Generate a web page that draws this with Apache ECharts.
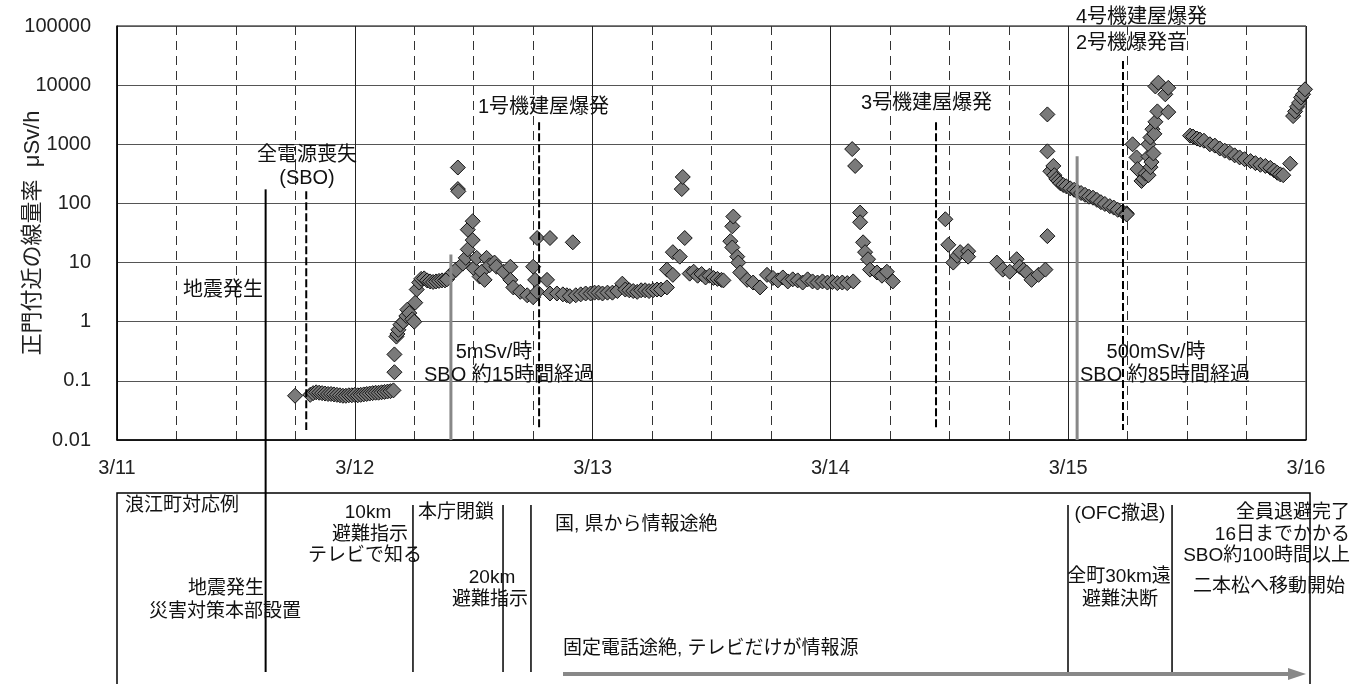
<!DOCTYPE html>
<html><head><meta charset="utf-8">
<script src="https://cdn.jsdelivr.net/npm/echarts@6/dist/echarts.min.js"></script>
<style>html,body{margin:0;padding:0;background:#fff}#chart{width:1361px;height:684px}</style>
</head><body><div id="chart"></div>
<script>
// Dose rate near the main gate (μSv/h); x = hours counted from 3/11 00:00
const dateLabels = ['3/11', '3/12', '3/13', '3/14', '3/15', '3/16'];
const yTickLabels = ['0.01', '0.1', '1', '10', '100', '1000', '10000', '100000'];

const rateMar11 = [[17.97,0.056],[19.5,0.058],[19.8,0.062],[20.1,0.064],[20.4,0.063],[20.7,0.062],[21.0,0.061],[21.3,0.06],[21.6,0.06],[21.9,0.059],[22.2,0.058],[22.5,0.057],[22.8,0.056],[23.1,0.056],[23.4,0.057],[23.7,0.057]];
const rateMar12 = [[24.0,0.058],[24.3,0.057],[24.6,0.058],[24.9,0.059],[25.2,0.06],[25.5,0.061],[25.8,0.062],[26.1,0.063],[26.4,0.063],[26.7,0.064],[27.0,0.065],[27.3,0.066],[27.6,0.067],[27.9,0.069],
  [28.0,0.14],[28.0,0.28],[28.2,0.56],[28.3,0.62],[28.4,0.73],[28.6,0.89],[28.9,1.0],[29.2,1.25],[29.3,1.6],[29.5,1.4],[29.8,1.1],[30.0,1.0],[30.1,2.1],[30.25,3.5],[30.5,4.6],[30.7,5.3],[31.0,5.4],[31.3,5.0],[31.6,4.8],[31.9,4.7],[32.2,4.8],[32.5,4.9],[32.8,5.0],[33.1,5.0],[33.3,5.2],[33.9,6.8],[34.2,7.5],
  [34.4,405],[34.4,175],[34.45,160],[34.9,9.6],[35.2,12],[35.4,16.7],[35.4,36],[35.9,50],[35.9,24],[36.0,8],[36.3,12],[36.6,5.8],[36.8,7],[37.1,5.1],[37.3,12],[37.6,9],[38.1,10],[38.3,8.5],[39.0,7],[39.7,8.5],[39.7,5.1],[40.0,3.8],[40.7,3.2],[41.4,2.8],[42.0,2.6],[42.0,8.5],[42.2,5.1],[42.4,3.2],[42.4,26],[43.4,5.1],[43.7,3.0],[43.7,26],[44.4,3.0],[45.4,2.8],[46.0,22],[45.0,2.9],[45.7,2.7],[46.3,2.8],[46.8,2.9],[47.3,3.0],[47.8,3.0]];
const rateMar13 = [[48.2,3.1],[48.6,3.1],[49.0,3.0],[49.5,3.1],[50.0,3.1],[50.5,3.3],[51.0,4.4],[51.3,3.5],[51.7,3.4],[52.1,3.3],[52.5,3.2],[52.9,3.4],[53.3,3.4],[53.7,3.3],[54.1,3.4],[54.5,3.5],[54.9,3.5],[55.5,3.8],
  [55.5,7.6],[56.1,6.2],[56.1,15],[56.8,12.6],[57.0,175],[57.1,280],[57.3,26],[57.8,6.5],[58.2,7.0],[58.6,6.0],[59.0,6.4],[59.4,5.6],[59.8,6.0],[60.2,5.5],[60.6,5.3],[61.0,5.1],[61.2,5.0],
  [61.9,23],[62.1,41],[62.2,60],[62.1,18],[62.6,12.6],[62.7,10],[62.9,6.8],[63.6,5.1],[64.2,4.6],[64.9,3.8],[65.6,6.2],[66.2,5.5],[66.7,5.0],[67.2,5.6],[67.7,4.8],[68.2,5.2],[68.7,5.0],[69.2,4.6],[69.7,5.2],[70.2,4.8],[70.7,4.6],[71.2,4.8],[71.7,4.6]];
const rateMar14 = [[72.2,4.7],[72.7,4.5],[73.2,4.6],[73.7,4.5],[74.3,4.8],[74.2,830],[74.5,430],[75.0,70],[75.0,48],[75.3,22],[75.5,15],[75.8,11.4],[76.0,7.6],[76.7,6.8],[77.2,6.0],[77.7,7.0],[78.3,4.8],
  [83.6,54],[83.9,20],[84.4,10],[84.8,13],[85.1,15],[85.9,15.6],[85.9,12.6],
  [88.8,10],[89.4,7.6],[90.1,7.0],[90.8,11.4],[91.1,8.5],[91.5,7.5],[91.8,6.8],[92.3,5.1],[93.0,6.2],[93.7,7.6],
  [93.9,28],[93.9,760],[93.9,3200],[94.2,350],[94.5,430],[94.6,300],[94.8,260],[95.0,240],[95.2,220],[95.5,205],[95.8,195]];
const rateMar15 = [[96.2,180],[96.6,170],[96.9,160],[97.3,150],[97.7,140],[98.1,130],[98.5,125],[98.9,115],[99.3,105],[99.7,98],[100.2,90],[100.6,85],[101.0,78],[101.5,72],[101.9,68],[101.9,65],
  [102.5,1000],[102.9,600],[103.0,380],[103.4,240],[103.6,260],[103.8,320],[104.1,300],[104.1,620],[104.1,1000],[104.3,410],[104.3,1300],[104.4,500],[104.5,1800],[104.6,700],[104.7,1500],[104.8,2400],[104.8,9500],[105.0,3600],[105.1,11000],[105.8,7000],[106.1,3500],[106.1,9000],
  [108.3,1400],[108.6,1350],[109.0,1250],[109.3,1200],[109.7,1150],[110.3,1000],[110.8,950],[111.3,850],[111.8,780],[112.3,720],[112.8,650],[113.3,600],[113.8,560],[114.4,520],[114.9,480],[115.4,450],[115.9,430],[116.4,400],[116.8,360],[117.1,330],[117.4,310],[117.7,300],[118.4,470],
  [118.7,3000],[118.9,3600],[119.1,4300],[119.3,5000],[119.5,6200],[119.7,7000],[119.9,8500]];

// event markers: hour, top of the line (μSv/h)
const quakeLine = { h: 15.0, top: 173 };
const eventLines = [
  { h: 19.1, top: 160 },    // 全電源喪失
  { h: 42.6, top: 2360 },   // 1号機建屋爆発
  { h: 82.66, top: 2360 },  // 3号機建屋爆発
  { h: 101.53, top: 25500 } // 4号機建屋爆発 / 2号機爆発音
];
const doseMarks = [
  { h: 33.7, top: 13.7 },   // 5mSv/時
  { h: 96.9, top: 627 }     // 500mSv/時
];
// hours at which the response table is divided
const tableDividers = [29.87, 38.96, 41.78, 95.98, 106.48];

const FONT = '"Liberation Sans", Arial, "Noto Sans CJK JP", sans-serif';
const doseData = [].concat(rateMar11, rateMar12, rateMar13, rateMar14, rateMar15);

const chart = echarts.init(document.getElementById('chart'));

const lineSeries = [];
lineSeries.push({
  type: 'line', data: [[quakeLine.h, quakeLine.top], [quakeLine.h, 0.01]],
  showSymbol: false, silent: true, z: 5,
  lineStyle: { color: '#000', width: 2, type: 'solid' }
});
eventLines.forEach(e => lineSeries.push({
  type: 'line', data: [[e.h, e.top], [e.h, 0.0148]],
  showSymbol: false, silent: true, z: 5,
  lineStyle: { color: '#000', width: 2, type: [8, 3] }
}));
doseMarks.forEach(e => lineSeries.push({
  type: 'line', data: [[e.h, e.top], [e.h, 0.01]],
  showSymbol: false, silent: true, z: 5,
  lineStyle: { color: '#888', width: 3, type: 'solid' }
}));

const option = {
  animation: false,
  backgroundColor: '#fff',
  textStyle: { fontFamily: FONT },
  grid: { left: 117, top: 26, width: 1189, height: 414, outerBoundsMode: 'none', containLabel: false,
    show: true, borderColor: '#000', borderWidth: 1 },
  xAxis: {
    type: 'value', min: 0, max: 120, interval: 24,
    axisLine: { show: true, lineStyle: { color: '#000', width: 1.5 } },
    axisTick: { show: false },
    axisLabel: { margin: 18, fontSize: 20, color: '#222', fontFamily: FONT,
      formatter: v => dateLabels[Math.round(v / 24)] },
    splitLine: { show: true, lineStyle: { color: '#222', width: 1 } },
    minorTick: { show: false, splitNumber: 4 },
    minorSplitLine: { show: true, lineStyle: { color: '#333', width: 1, type: [9, 6] } }
  },
  yAxis: {
    type: 'log', logBase: 10, min: 0.01, max: 100000, splitNumber: 7,
    name: '正門付近の線量率  μSv/h', nameLocation: 'middle', nameRotate: 90, nameGap: 73,
    nameMoveOverlap: false,
    nameTextStyle: { fontSize: 22, color: '#222', fontFamily: FONT },
    axisLine: { show: true, lineStyle: { color: '#000', width: 1.5 } },
    axisTick: { show: false },
    axisLabel: { margin: 26, fontSize: 20, color: '#222', fontFamily: FONT,
      formatter: v => yTickLabels[Math.round(Math.log10(v)) + 2] },
    splitLine: { show: true, lineStyle: { color: '#555', width: 1 } },
    minorSplitLine: { show: false }
  },
  series: [{
    type: 'scatter', data: doseData, symbol: 'diamond', symbolSize: 15, z: 3,
    itemStyle: { color: '#7a7a7a', borderColor: '#111', borderWidth: 1, opacity: 1 }
  }].concat(lineSeries)
};
chart.setOption(option);

// annotations and the response table below the plot
const px = h => chart.convertToPixel({ xAxisIndex: 0 }, h);
const txt = (x, y, text, align, size) => ({
  type: 'text', x: x, y: y, silent: true, z: 20,
  style: { text: text, fill: '#111', font: (size || 20) + 'px ' + FONT, textAlign: align || 'left', textVerticalAlign: 'middle' }
});
const ln = (x1, y1, x2, y2, color, w) => ({
  type: 'line', silent: true, z: 15,
  shape: { x1: x1, y1: y1, x2: x2, y2: y2 },
  style: { stroke: color || '#000', lineWidth: w || 1.5 }
});

const graphics = [
  txt(307, 155, '全電源喪失', 'center'),
  txt(307, 178, '(SBO)', 'center'),
  txt(478, 107, '1号機建屋爆発'),
  txt(861, 103, '3号機建屋爆発'),
  txt(1076, 17, '4号機建屋爆発'),
  txt(1076, 43, '2号機爆発音'),
  txt(183, 290, '地震発生'),
  txt(494, 352, '5mSv/時', 'center'),
  txt(509, 375, 'SBO 約15時間経過', 'center'),
  txt(1156, 352, '500mSv/時', 'center'),
  txt(1165, 375, 'SBO 約85時間経過', 'center'),
  // table frame
  { type: 'rect', silent: true, z: 10, shape: { x: 117, y: 493, width: 1193, height: 220 },
    style: { fill: 'none', stroke: '#000', lineWidth: 1.5 } },
  ln(px(quakeLine.h), 440, px(quakeLine.h), 672, '#000', 2)
];
tableDividers.forEach(h => graphics.push(ln(px(h), 505, px(h), 672, '#000', 1.5)));

const T = 19;
graphics.push(
  txt(125, 506, '浪江町対応例', 'left', T),
  txt(368, 513, '10km', 'center', T),
  txt(370, 535, '避難指示', 'center', T),
  txt(365, 556, 'テレビで知る', 'center', T),
  txt(418, 513, '本庁閉鎖', 'left', T),
  txt(492, 578, '20km', 'center', T),
  txt(490, 600, '避難指示', 'center', T),
  txt(226, 589, '地震発生', 'center', T),
  txt(225, 612, '災害対策本部設置', 'center', T),
  txt(555, 525, '国, 県から情報途絶', 'left', T),
  txt(563, 649, '固定電話途絶, テレビだけが情報源', 'left', T),
  txt(1120, 514, '(OFC撤退)', 'center', T),
  txt(1119, 577, '全町30km遠', 'center', T),
  txt(1120, 600, '避難決断', 'center', T),
  txt(1350, 513, '全員退避完了', 'right', T),
  txt(1350, 535, '16日までかかる', 'right', T),
  txt(1350, 556, 'SBO約100時間以上', 'right', T),
  txt(1345, 587, '二本松へ移動開始', 'right', T),
  ln(563, 674, 1290, 674, '#888', 4),
  { type: 'polygon', silent: true, z: 15, shape: { points: [[1288, 668], [1306, 674], [1288, 680]] },
    style: { fill: '#888' } }
);
chart.setOption({ graphic: graphics });
</script>
</body></html>
